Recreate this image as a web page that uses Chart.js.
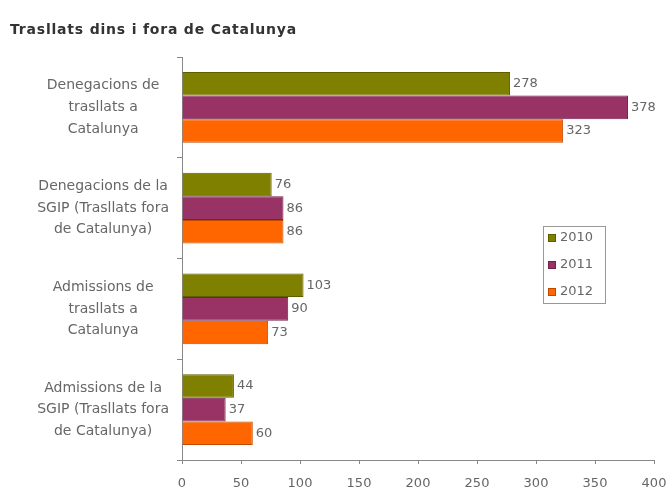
<!DOCTYPE html>
<html>
<head>
<meta charset="utf-8">
<script src="https://cdn.jsdelivr.net/npm/chart.js@4.4.0/dist/chart.umd.min.js"></script>
<style>
  html, body { margin: 0; padding: 0; background: #fff; }
  #wrap { width: 671px; height: 496px; position: relative; }
</style>
</head>
<body>
<div id="wrap"><canvas id="c"></canvas></div>
<script>
// Trasllats dins i fora de Catalunya — horizontal grouped bars
var TITLE = 'Trasllats dins i fora de Catalunya';
var categories = [
  ['Denegacions de', 'trasllats a', 'Catalunya'],
  ['Denegacions de la', 'SGIP (Trasllats fora', 'de Catalunya)'],
  ['Admissions de', 'trasllats a', 'Catalunya'],
  ['Admissions de la', 'SGIP (Trasllats fora', 'de Catalunya)']
];
var years = ['2010', '2011', '2012'];
var values2010 = [278, 76, 103, 44];
var values2011 = [378, 86, 90, 37];
var values2012 = [323, 86, 73, 60];
var xTicks = [0, 50, 100, 150, 200, 250, 300, 350, 400];

var FONT = 'Tahoma, "DejaVu Sans", sans-serif';
var TXT = '#666666';

var fills = ['#808000', '#993366', '#ff6600'];
var borders = ['#5e5e00', '#6e2248', '#c04a00'];

// value labels right of each bar
var valueLabels = {
  id: 'valueLabels',
  afterDatasetsDraw: function (chart) {
    var ctx = chart.ctx;
    ctx.save();
    ctx.font = '13px ' + FONT;
    ctx.fillStyle = TXT;
    ctx.textBaseline = 'middle';
    ctx.textAlign = 'left';
    chart.data.datasets.forEach(function (ds, i) {
      chart.getDatasetMeta(i).data.forEach(function (bar, j) {
        ctx.fillText(String(ds.data[j]), bar.x + 3, bar.y);
      });
    });
    ctx.restore();
  }
};

// title + boxed legend drawn by hand
var decor = {
  id: 'decor',
  afterDraw: function (chart) {
    var ctx = chart.ctx;
    var area = chart.chartArea;
    ctx.save();
    ctx.font = 'bold 14px ' + FONT;
    ctx.fillStyle = '#333';
    ctx.textBaseline = 'middle';
    if ('letterSpacing' in ctx) ctx.letterSpacing = '0.8px';
    ctx.fillText(TITLE, 10, 30);
    if ('letterSpacing' in ctx) ctx.letterSpacing = '0px';

    var lx = area.right - 111, ly = area.top + 169;
    ctx.strokeStyle = '#999';
    ctx.lineWidth = 1;
    ctx.strokeRect(lx + 0.5, ly + 0.5, 62, 77);
    ctx.font = '13px ' + FONT;
    chart.data.datasets.forEach(function (ds, i) {
      var y = ly + 12 + i * 27;
      ctx.fillStyle = ds.backgroundColor;
      ctx.fillRect(lx + 5, y - 4, 8, 8);
      ctx.strokeStyle = ds.borderColor;
      ctx.strokeRect(lx + 5.5, y - 3.5, 7, 7);
      ctx.fillStyle = TXT;
      ctx.fillText(ds.label, lx + 17, y);
    });
    ctx.restore();
  }
};

var datasets = [values2010, values2011, values2012].map(function (vals, i) {
  return {
    label: years[i],
    data: vals,
    backgroundColor: fills[i],
    borderColor: borders[i],
    borderWidth: 1,
    categoryPercentage: 0.7,
    barPercentage: 1.0
  };
});

new Chart(document.getElementById('c'), {
  type: 'bar',
  data: { labels: categories, datasets: datasets },
  plugins: [valueLabels, decor],
  options: {
    indexAxis: 'y',
    responsive: true,
    maintainAspectRatio: false,
    animation: false,
    layout: { padding: { top: 57, right: 17, left: 0, bottom: 0 } },
    scales: {
      x: {
        min: 0,
        max: 400,
        afterBuildTicks: function (scale) {
          scale.ticks = xTicks.map(function (v) { return { value: v }; });
        },
        afterFit: function (scale) {
          scale.height = 36;
          scale.paddingLeft = 0;
          scale.paddingRight = 0;
        },
        grid: { drawOnChartArea: false, tickLength: 4, color: '#888' },
        border: { color: '#888' },
        ticks: { color: TXT, font: { family: FONT, size: 13 }, padding: 12 }
      },
      y: {
        afterFit: function (scale) {
          scale.width = 182;
          scale.paddingTop = 0;
          scale.paddingBottom = 0;
        },
        grid: { drawOnChartArea: false, offset: true, tickLength: 5, color: '#888' },
        border: { color: '#888' },
        ticks: {
          color: TXT,
          font: { family: FONT, size: 14, lineHeight: 1.55 },
          crossAlign: 'center',
          padding: 8
        }
      }
    },
    plugins: {
      legend: { display: false },
      title: { display: false },
      tooltip: { enabled: false }
    }
  }
});
</script>
</body>
</html>
